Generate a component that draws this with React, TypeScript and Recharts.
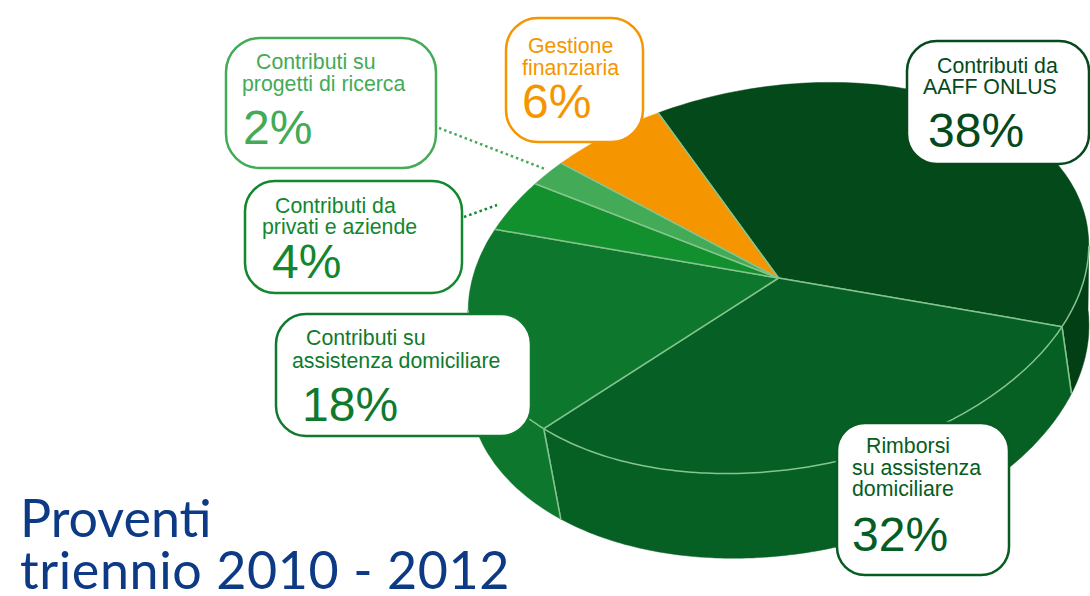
import React from 'react';
import { PieChart, Pie } from 'recharts';

const sliceNames = ['Contributi da AAFF ONLUS', 'Rimborsi su assistenza domiciliare', 'Contributi su assistenza domiciliare', 'Contributi da privati e aziende', 'Contributi su progetti di ricerca', 'Gestione finanziaria'];
const sliceValues = [38, 32, 18, 4, 2, 6];
const topColors = ['#04491a', '#066026', '#0d782d', '#12902e', '#43ab57', '#f59600'];
const wallColors = ['#033f14', '#066024', '#0d782d', '#12902e', '#43ab57', '#f59600'];
const textColors = ['#05491c', '#065c22', '#0f7a2e', '#12872e', '#43ab57', '#f59600'];

const chartData = sliceNames.map((name, i) => ({ name, value: sliceValues[i], fill: topColors[i], wall: wallColors[i] }));

// callouts, same order as the slices
const calloutLines = [
  ['Contributi da', 'AAFF ONLUS'],
  ['Rimborsi', 'su assistenza', 'domiciliare'],
  ['Contributi su', 'assistenza domiciliare'],
  ['Contributi da', 'privati e aziende'],
  ['Contributi su', 'progetti di ricerca'],
  ['Gestione', 'finanziaria'],
];
const calloutBoxes = [
  { x: 907, y: 41, w: 182, h: 123, r: 30 },
  { x: 837, y: 423, w: 172, h: 152, r: 28 },
  { x: 276, y: 314, w: 255, h: 122, r: 30 },
  { x: 245, y: 181, w: 217, h: 112, r: 30 },
  { x: 226, y: 38, w: 210, h: 130, r: 34 },
  { x: 506, y: 18, w: 137, h: 124, r: 32 },
];
const calloutText = [
  { xs: [937, 923], ys: [66, 87], px: 928, py: 131 },
  { xs: [866, 852, 852], ys: [446, 468, 489], px: 852, py: 535 },
  { xs: [306, 292], ys: [338, 361], px: 302, py: 405 },
  { xs: [275, 262], ys: [206, 227], px: 272, py: 262 },
  { xs: [256, 242], ys: [62, 84], px: 243, py: 128 },
  { xs: [528, 522], ys: [46, 68], px: 522, py: 102 },
];

const titleLines = ['Proventi', 'triennio 2010 - 2012'];

const CX = 778.5;
const CY = 278;
const RIM = '#86c48f';

const rad = (t: number) => (t * Math.PI) / 180;
// the disc is a bit tilted, so the ellipse has skew terms
const topPoint = (t: number) => [
  CX + 309 * Math.cos(rad(t)) + 28 * Math.sin(rad(t)),
  CY - 195 * Math.sin(rad(t)) - 15 * Math.cos(rad(t)),
];
const bottomPoint = (t: number) => [
  CX + 309 * Math.cos(rad(t + 5)) + 30 * Math.sin(rad(t + 5)),
  355 - 203 * Math.sin(rad(t + 5)) - 10 * Math.cos(rad(t + 5)),
];

const arc = (from: number, to: number, fn: (t: number) => number[]) => {
  const pts: string[] = [];
  const n = Math.max(2, Math.ceil(Math.abs(to - from)));
  for (let i = 0; i <= n; i++) {
    const p = fn(from + ((to - from) * i) / n);
    pts.push(`${p[0].toFixed(1)} ${p[1].toFixed(1)}`);
  }
  return pts;
};

const frontRange = (start: number, end: number) => {
  const a = Math.min(start, 5);
  const b = Math.max(end, -175);
  return a > b ? [a, b] : null;
};

const TopSlice = (props: any) => {
  const { startAngle, endAngle, fill } = props;
  const rim = arc(startAngle, endAngle, topPoint);
  const front = frontRange(startAngle, endAngle);
  const a = topPoint(startAngle);
  const b = topPoint(endAngle);
  return (
    <g>
      <path d={`M${CX} ${CY} L${rim.join(' L')} Z`} fill={fill} stroke={fill} strokeWidth={0.5} />
      <line x1={CX} y1={CY} x2={a[0]} y2={a[1]} stroke={RIM} strokeWidth={1.5} />
      <line x1={CX} y1={CY} x2={b[0]} y2={b[1]} stroke={RIM} strokeWidth={1.5} />
      {front && <path d={`M${arc(front[0], front[1], topPoint).join(' L')}`} fill="none" stroke={RIM} strokeWidth={1.5} />}
    </g>
  );
};

const WallSlice = (props: any) => {
  const { startAngle, endAngle, payload } = props;
  const front = frontRange(startAngle, endAngle);
  if (!front) return <g />;
  const upper = arc(front[0], front[1], topPoint);
  const lower = arc(front[1], front[0], bottomPoint);
  const edges = [startAngle, endAngle].filter((t) => t < 0 && t > -175);
  return (
    <g>
      <path d={`M${upper.join(' L')} L${lower.join(' L')} Z`} fill={payload.wall} stroke={payload.wall} strokeWidth={0.5} />
      {edges.map((t) => {
        const p = topPoint(t);
        const q = bottomPoint(t);
        return <line key={t} x1={p[0]} y1={p[1]} x2={q[0]} y2={q[1]} stroke={RIM} strokeWidth={1.5} />;
      })}
    </g>
  );
};

export default function App() {
  return (
    <div style={{ position: 'absolute', left: 0, top: 0, width: 1090, height: 596, overflow: 'hidden', background: '#fff', fontFamily: '"Liberation Sans", sans-serif' }}>
      <PieChart width={1090} height={596} margin={{ top: 0, right: 0, bottom: 0, left: 0 }}>
        <Pie
          data={chartData}
          dataKey="value"
          nameKey="name"
          cx={CX}
          cy={CY}
          outerRadius={311}
          startAngle={118}
          endAngle={-242}
          stroke="none"
          isAnimationActive={false}
          shape={WallSlice}
          activeShape={WallSlice}
          inactiveShape={WallSlice}
        />
        <Pie
          data={chartData}
          dataKey="value"
          nameKey="name"
          cx={CX}
          cy={CY}
          outerRadius={311}
          startAngle={118}
          endAngle={-242}
          stroke="none"
          isAnimationActive={false}
          shape={TopSlice}
          activeShape={TopSlice}
          inactiveShape={TopSlice}
        />
      </PieChart>

      {/* dotted leaders and callout boxes */}
      <svg width={1090} height={596} style={{ position: 'absolute', left: 0, top: 0 }}>
        <line x1={439} y1={128} x2={545} y2={169} stroke={textColors[4]} strokeWidth={2.5} strokeDasharray="2.5 3" />
        <line x1={464} y1={217} x2={497} y2={205} stroke={textColors[3]} strokeWidth={2.5} strokeDasharray="2.5 3" />
        {calloutBoxes.map((b, i) => (
          <rect key={i} x={b.x} y={b.y} width={b.w} height={b.h} rx={b.r} ry={b.r} fill="#fff" stroke={textColors[i]} strokeWidth={2.5} />
        ))}
      </svg>

      {calloutText.map((t, i) => (
        <React.Fragment key={i}>
          {calloutLines[i].map((line, j) => (
            <span key={j} style={{ position: 'absolute', left: t.xs[j], top: t.ys[j] - 10, fontSize: 21.3, lineHeight: '20px', color: textColors[i], whiteSpace: 'nowrap' }}>
              {line}
            </span>
          ))}
          <span style={{ position: 'absolute', left: t.px, top: t.py - 25, fontSize: 48, lineHeight: '50px', color: textColors[i], whiteSpace: 'nowrap' }}>
            {sliceValues[i]}%
          </span>
        </React.Fragment>
      ))}

      {titleLines.map((line, i) => (
        <div key={i} style={{ position: 'absolute', left: 20, top: 494 + i * 52, fontFamily: 'Lato, sans-serif', fontSize: 52, lineHeight: '46px', letterSpacing: i === 1 ? 0.6 : 0, color: '#0d3a85', whiteSpace: 'nowrap' }}>
          {line}
        </div>
      ))}
    </div>
  );
}
